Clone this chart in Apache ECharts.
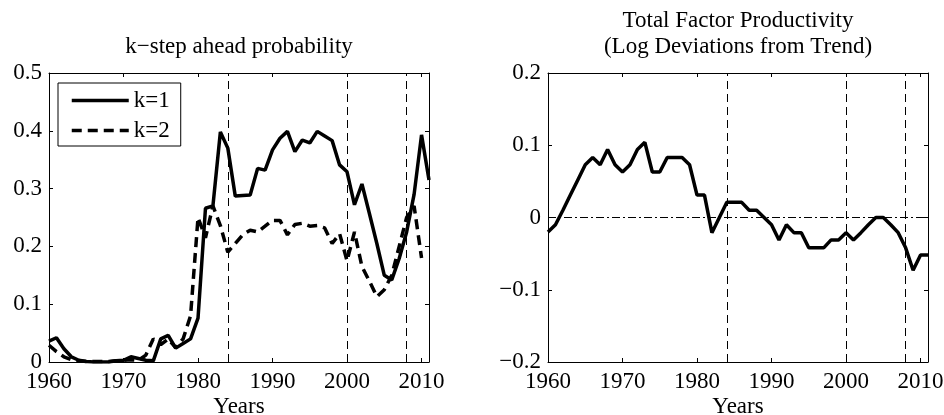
<!DOCTYPE html>
<html>
<head>
<meta charset="utf-8">
<script src="https://cdn.jsdelivr.net/npm/echarts@6/dist/echarts.min.js"></script>
<style>
html,body{margin:0;padding:0;background:#fff;}
#chart{width:944px;height:415px;}
</style>
</head>
<body>
<div id="chart"></div>
<script>
const years = [1960,1961,1962,1963,1964,1965,1966,1967,1968,1969,
  1970,1971,1972,1973,1974,1975,1976,1977,1978,1979,
  1980,1981,1982,1983,1984,1985,1986,1987,1988,1989,
  1990,1991,1992,1993,1994,1995,1996,1997,1998,1999,
  2000,2001,2002,2003,2004,2005,2006,2007,2008,2009,
  2010,2011];
const probK1 = [0.036,0.042,0.023,0.009,0.003,0.001,0.000,0.000,0.000,0.002,
  0.003,0.009,0.006,0.003,0.002,0.040,0.046,0.024,0.032,0.040,
  0.076,0.266,0.270,0.398,0.370,0.287,0.288,0.289,0.335,0.332,
  0.367,0.387,0.399,0.364,0.384,0.379,0.399,0.391,0.383,0.341,
  0.329,0.272,0.308,0.257,0.205,0.150,0.142,0.179,0.225,0.290,
  0.393,0.315];
const probK2 = [0.029,0.018,0.009,0.004,0.002,0.001,0.001,0.001,0.001,0.002,
  0.003,0.004,0.003,0.012,0.040,0.030,0.040,0.025,0.040,0.080,
  0.250,0.215,0.270,0.236,0.190,0.205,0.220,0.228,0.225,0.235,
  0.245,0.245,0.220,0.238,0.240,0.235,0.236,0.232,0.205,0.222,
  0.175,0.225,0.165,0.140,0.113,0.125,0.150,0.200,0.250,0.270,
  0.180,null];
const tfp = [-0.020,-0.010,0.010,0.031,0.052,0.073,0.083,0.073,0.094,0.073,
  0.063,0.073,0.094,0.104,0.063,0.063,0.083,0.083,0.083,0.073,
  0.031,0.031,-0.021,0.000,0.021,0.021,0.021,0.010,0.010,0.000,
  -0.010,-0.031,-0.010,-0.021,-0.021,-0.042,-0.042,-0.042,-0.031,-0.031,
  -0.021,-0.031,-0.021,-0.010,0.000,0.000,-0.010,-0.021,-0.042,-0.073,
  -0.052,-0.052];
const markerYears = [1984, 2000, 2008];
const leftTitle = 'k\u2212step ahead probability';
const rightTitle = 'Total Factor Productivity\n(Log Deviations from Trend)';
const xName = 'Years';

const FONT = 'Liberation Serif';
const FS = 23;
const LW = 3.5;
const pairs = (vals) => years.map((y, i) => [y, vals[i]]);
const minus = (v) => (v < 0 ? '\u2212' + String(Math.abs(Math.round(v*10)/10)) : String(Math.round(v*10)/10));

function xAxes(gi) {
  const base = {
    type: 'value', gridIndex: gi, min: 1960, max: 2011, interval: 10,
    axisLine: {show: true, onZero: false, lineStyle: {color: '#000', width: 1}},
    axisTick: {show: true, inside: true, length: 4, lineStyle: {color: '#000'}},
    splitLine: {show: false}
  };
  return [
    Object.assign({}, base, {
      position: 'bottom',
      name: xName, nameLocation: 'middle', nameGap: 33, nameMoveOverlap: false,
      nameTextStyle: {fontFamily: FONT, fontSize: FS, color: '#000'},
      axisLabel: {show: true, margin: 8, fontFamily: FONT, fontSize: FS, color: '#000',
        showMaxLabel: false, formatter: (v) => (v % 10 === 0 ? String(v) : '')}
    }),
    Object.assign({}, base, {position: 'top', axisLabel: {show: false}})
  ];
}
function yAxes(gi, mn, mx) {
  const base = {
    type: 'value', gridIndex: gi, min: mn, max: mx, interval: 0.1,
    axisLine: {show: true, onZero: false, lineStyle: {color: '#000', width: 1}},
    axisTick: {show: true, inside: true, length: 4, lineStyle: {color: '#000'}},
    splitLine: {show: false}
  };
  return [
    Object.assign({}, base, {position: 'left',
      axisLabel: {show: true, margin: 7, fontFamily: FONT, fontSize: FS, color: '#000', formatter: minus}}),
    Object.assign({}, base, {position: 'right', axisLabel: {show: false}})
  ];
}

const chart = echarts.init(document.getElementById('chart'), null, {renderer: 'canvas'});
chart.setOption({
  animation: false,
  backgroundColor: '#fff',
  textStyle: {fontFamily: FONT},
  title: [
    {text: leftTitle, left: 239, top: 34, textAlign: 'center', padding: 0,
      textStyle: {fontFamily: FONT, fontSize: FS, fontWeight: 'normal', color: '#000', lineHeight: 26}},
    {text: rightTitle, left: 738, top: 8, textAlign: 'center', padding: 0,
      textStyle: {fontFamily: FONT, fontSize: FS, fontWeight: 'normal', color: '#000', lineHeight: 26}}
  ],
  legend: {
    data: ['k=1', 'k=2'], orient: 'vertical', left: 58, top: 83,
    padding: [6, 11, 4, 12], itemGap: 7, itemWidth: 57, itemHeight: 14,
    backgroundColor: '#fff', borderColor: '#000', borderWidth: 1, borderRadius: 0,
    itemStyle: {opacity: 0},
    lineStyle: {width: LW, color: '#000'},
    textStyle: {fontFamily: FONT, fontSize: FS, color: '#000'}
  },
  grid: [
    {left: 49, top: 73, width: 380, height: 289, containLabel: false, outerBoundsMode: 'none'},
    {left: 548, top: 73, width: 380, height: 289, containLabel: false, outerBoundsMode: 'none'}
  ],
  xAxis: xAxes(0).concat(xAxes(1)),
  yAxis: yAxes(0, 0, 0.5).concat(yAxes(1, -0.2, 0.2)),
  series: [
    {
      name: 'k=1', type: 'line', xAxisIndex: 0, yAxisIndex: 0, data: pairs(probK1),
      symbol: 'none', showSymbol: false, connectNulls: false,
      lineStyle: {color: '#000', width: LW}, itemStyle: {color: '#000'},
      markLine: {silent: true, symbol: ['none', 'none'], label: {show: false},
        lineStyle: {color: '#000', width: 1, type: [8, 5]},
        data: markerYears.map((y) => ({xAxis: y}))}
    },
    {
      name: 'k=2', type: 'line', xAxisIndex: 0, yAxisIndex: 0, data: pairs(probK2),
      symbol: 'none', showSymbol: false, connectNulls: false,
      lineStyle: {color: '#000', width: LW, type: [10, 6]}, itemStyle: {color: '#000'}
    },
    {
      name: 'TFP', type: 'line', xAxisIndex: 2, yAxisIndex: 2, data: pairs(tfp),
      symbol: 'none', showSymbol: false,
      lineStyle: {color: '#000', width: LW}, itemStyle: {color: '#000'},
      markLine: {silent: true, symbol: ['none', 'none'], label: {show: false},
        data: markerYears.map((y) => ({xAxis: y, lineStyle: {color: '#000', width: 1, type: [8, 5]}}))
          .concat([{yAxis: 0, lineStyle: {color: '#000', width: 1, type: [8, 3, 2, 3]}}])}
    }
  ]
});
</script>
</body>
</html>
